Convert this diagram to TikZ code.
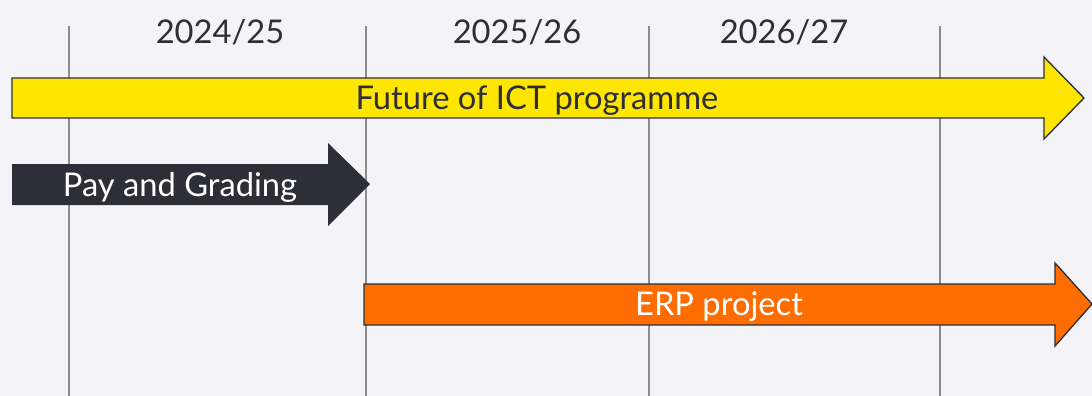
\documentclass[tikz,border=0pt]{standalone}
\usepackage{fontspec}
\setmainfont{Lato}
\definecolor{bgpage}{HTML}{F4F4F8}
\definecolor{gridgray}{HTML}{8C8C8C}
\definecolor{eydark}{HTML}{2E2E38}
\definecolor{eyyellow}{HTML}{FFE600}
\definecolor{eyorange}{HTML}{FF6D00}
\tikzset{
  yearline/.style={draw=gridgray, line width=1.5pt},
  yearlabel/.style={anchor=base, text=eydark, font=\fontsize{24.5}{28}\selectfont},
  barlabel/.style={anchor=base, font=\fontsize{24.5}{28}\selectfont},
  bar/.style={draw=eydark, line width=1pt, line join=miter}
}
\begin{document}
\begin{tikzpicture}[x=0.75pt,y=-0.75pt]
  \fill[bgpage] (0,0) rectangle (1092,396);
  \useasboundingbox (0,0) rectangle (1092,396);
  % year grid
  \foreach \gx in {69,366,649,940}
    \draw[yearline] (\gx,26) -- (\gx,396);
  \node[yearlabel] (y1) at (220,43) {2024/25};
  \node[yearlabel] (y2) at (517,43) {2025/26};
  \node[yearlabel] (y3) at (784,43) {2026/27};
  % bars
  \draw[bar, fill=eyyellow] (12,78) -- (1044,78) -- (1044,57) -- (1084,98)
    -- (1044,139) -- (1044,118) -- (12,118) -- cycle;
  \node[barlabel, text=eydark] (ict) at (537,109) {Future of ICT programme};
  \fill[eydark] (12,164) -- (328,164) -- (328,143) -- (370,184)
    -- (328,226) -- (328,205) -- (12,205) -- cycle;
  \node[barlabel, text=white] (pay) at (180,196) {Pay and Grading};
  \draw[bar, fill=eyorange] (364,284) -- (1055,284) -- (1055,263) -- (1092,304)
    -- (1055,346) -- (1055,325) -- (364,325) -- cycle;
  \node[barlabel, text=white] (erp) at (719,315) {ERP project};
\end{tikzpicture}
\end{document}
